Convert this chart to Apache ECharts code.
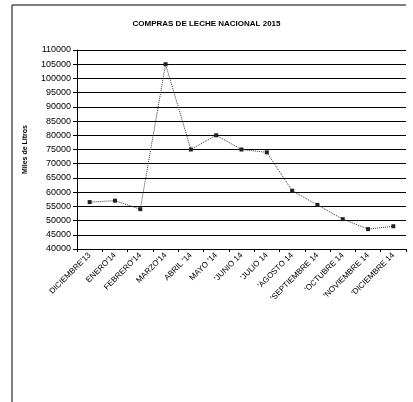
<!DOCTYPE html>
<html>
<head>
<meta charset="utf-8">
<script src="https://cdn.jsdelivr.net/npm/echarts@6/dist/echarts.min.js"></script>
<style>
  html, body { margin: 0; padding: 0; background: #fff; }
  #chart { width: 413px; height: 402px; }
</style>
</head>
<body>
<div id="chart"></div>
<script>
// meses (eje x)
var months = ["DICIEMBRE'13", "ENERO'14", "FEBRERO'14", "MARZO'14", "ABRIL '14", "MAYO '14",
  "'JUNIO 14", "'JULIO 14", "'AGOSTO 14", "'SEPTIEMBRE 14", "'OCTUBRE 14", "'NOVIEMBRE 14", "'DICIEMBRE 14"]
// compras en miles de litros
var compras = [56500, 57000, 54000, 105000, 75000, 80000, 75000, 74000, 60500, 55500, 50500, 47000, 48000]
var yMin = 40000
var yMax = 110000
var yStep = 5000

var chart = echarts.init(document.getElementById('chart'))
chart.setOption({
  backgroundColor: '#fff',
  animation: false,
  title: {
    text: 'COMPRAS DE LECHE NACIONAL 2015',
    left: 'center',
    top: 15,
    textStyle: {
      fontFamily: 'Liberation Sans',
      fontSize: 8,
      fontWeight: 'bold',
      color: '#000'
    }
  },
  graphic: [{
    type: 'polyline',
    shape: { points: [[12, 402], [12, 5], [406, 5]] },
    style: { stroke: '#000', lineWidth: 1, fill: null }
  }],
  grid: {
    left: 77,
    right: 7,
    top: 50,
    bottom: 153
  },
  xAxis: {
    type: 'category',
    data: months,
    boundaryGap: true,
    axisLine: { lineStyle: { color: '#000', width: 1 } },
    axisTick: { show: true, length: 3, lineStyle: { color: '#000' } },
    axisLabel: {
      rotate: 45,
      interval: 0,
      margin: 5,
      fontFamily: 'Liberation Sans',
      fontSize: 8,
      color: '#000'
    }
  },
  yAxis: {
    type: 'value',
    min: yMin,
    max: yMax,
    interval: yStep,
    name: 'Miles de Litros',
    nameLocation: 'middle',
    nameGap: 48,
    nameTextStyle: {
      fontFamily: 'Liberation Sans',
      fontSize: 7,
      fontWeight: 'bold',
      color: '#000'
    },
    axisLine: { show: true, lineStyle: { color: '#000', width: 1 } },
    axisTick: { show: true, length: 4, lineStyle: { color: '#000' } },
    axisLabel: {
      margin: 6,
      fontFamily: 'Liberation Sans',
      fontSize: 9,
      color: '#000',
      formatter: function (v) { return String(v) }
    },
    splitLine: { show: true, lineStyle: { color: '#000', width: 1 } }
  },
  series: [{
    type: 'line',
    data: compras,
    symbol: 'rect',
    symbolSize: 4,
    itemStyle: { color: '#222' },
    lineStyle: { color: '#333', width: 1, type: 'dotted' }
  }]
})
</script>
</body>
</html>
